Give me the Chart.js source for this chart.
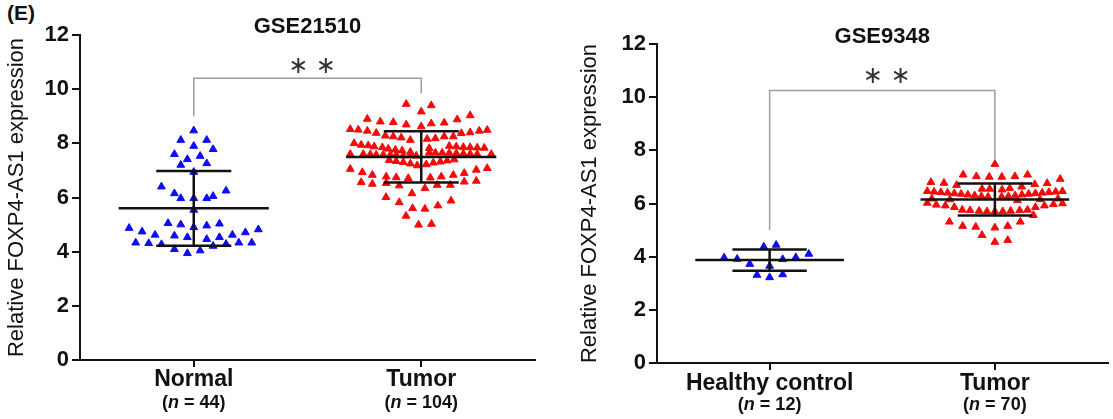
<!DOCTYPE html>
<html>
<head>
<meta charset="utf-8">
<script src="https://cdn.jsdelivr.net/npm/chart.js@4.4.1/dist/chart.umd.min.js"></script>
<style>
  body { margin: 0; background: #fff; width: 1113px; height: 419px; overflow: hidden; position: relative; }
  .panel { position: absolute; top: 0; height: 419px; }
  #tag { position: absolute; left: 7px; top: 1px; font: bold 21px 'Liberation Sans', Arial, sans-serif; color: #111; }
</style>
</head>
<body>
<div id="tag">(E)</div>
<div class="panel" style="left:0;width:556px"><canvas id="c1"></canvas></div>
<div class="panel" style="left:556px;width:557px"><canvas id="c2"></canvas></div>

<script>
// --- données ---
const catX = [0.5, 1.5];
const yTicks = [0, 2, 4, 6, 8, 10, 12];

// GSE21510
const leftTitle = "GSE21510";
const leftCats = ["Normal", "Tumor"];
const leftN = [44, 104];
const leftMeans = [5.6, 7.5];
const leftSdHi = [6.98, 8.45];
const leftSdLo = [4.22, 6.55];
const leftBracket = [9.0, 10.4, 9.85];   // bas gauche, haut, bas droite
const leftStarsY = 10.83;

// [décalage x, valeur]
const normalPts = [
  [0, 8.47], [-0.057, 8.12], [0.057, 8.12], [0, 7.9], [0.085, 7.78], [-0.085, 7.6],
  [-0.028, 7.41], [0.028, 7.53], [-0.057, 7.2], [0.057, 7.26], [0, 6.94], [-0.142, 6.4],
  [-0.085, 6.15], [-0.057, 5.97], [0, 5.97], [0.057, 5.97], [0.085, 6.05], [0.142, 6.25],
  [0, 5.54], [-0.284, 4.87], [-0.227, 4.74], [-0.17, 4.62], [-0.113, 5.05], [-0.057, 5.0],
  [0, 4.9], [0.057, 4.96], [0.113, 5.03], [0.17, 4.62], [0.227, 4.71], [0.284, 4.82],
  [-0.085, 4.59], [-0.028, 4.53], [0.057, 4.46], [0.113, 4.53], [-0.255, 4.33], [-0.198, 4.31],
  [-0.142, 4.27], [0.085, 4.21], [0.142, 4.28], [0.198, 4.33], [0.255, 4.33], [-0.085, 4.09],
  [-0.028, 3.94], [0.028, 4.04]
];

const tumorLeftPts = [
  [-0.066, 9.45], [0.044, 9.40], [0, 9.17],
  [-0.237, 8.90], [0.215, 9.03], [0.158, 8.88],
  [-0.180, 8.80], [-0.123, 8.78], [-0.066, 8.69], [0, 8.62], [0.044, 8.73], [0.101, 8.76],
  [-0.312, 8.52], [-0.277, 8.50], [-0.237, 8.46], [-0.198, 8.38], [0.176, 8.37], [0.215, 8.40], [0.255, 8.46], [0.290, 8.49],
  [-0.158, 8.28], [-0.123, 8.25], [-0.088, 8.21], [-0.048, 8.12], [0.026, 8.16], [0.062, 8.18], [0.101, 8.25], [0.141, 8.25],
  [-0.295, 8.00], [-0.264, 7.94], [-0.233, 7.92], [-0.207, 7.88], [-0.171, 7.85], [-0.145, 7.80], [-0.114, 7.76],
  [-0.084, 7.73], [-0.048, 7.68], [0.123, 7.90], [0.154, 7.88], [0.185, 7.86], [0.215, 7.85], [0.246, 7.84], [0.277, 7.83],
  [0.035, 7.82],
  [-0.312, 7.60], [-0.255, 7.60], [-0.224, 7.59], [-0.198, 7.58], [-0.167, 7.58], [-0.136, 7.57], [-0.110, 7.57],
  [-0.079, 7.55], [-0.048, 7.55], [-0.022, 7.54],
  [0.035, 7.65], [0.062, 7.65], [0.092, 7.65], [0.123, 7.64], [0.154, 7.63], [0.185, 7.62], [0.215, 7.61], [0.246, 7.60], [0.308, 7.60],
  [-0.141, 7.38], [-0.110, 7.34], [-0.079, 7.30], [-0.048, 7.25], [-0.018, 7.18], [0.022, 7.22], [0.053, 7.28], [0.084, 7.32], [0.114, 7.36], [0.145, 7.40],
  [-0.312, 7.05], [-0.259, 6.93], [0.242, 7.02], [0.290, 7.08],
  [-0.215, 6.83], [-0.154, 6.77], [-0.110, 6.74], [-0.057, 6.71], [0.040, 6.73], [0.088, 6.77], [0.141, 6.83], [0.189, 6.90],
  [-0.264, 6.56], [-0.215, 6.50], [-0.154, 6.53], [-0.097, 6.44], [0.070, 6.46], [0.128, 6.46], [0.189, 6.58], [0.242, 6.61],
  [0.016, 6.34], [-0.041, 6.15], [-0.155, 6.01], [-0.097, 5.82], [-0.038, 5.60], [0.016, 5.58], [0.073, 5.70], [0.131, 5.88],
  [-0.067, 5.32], [-0.012, 4.99], [0.045, 5.02]
];

// GSE9348
const rightTitle = "GSE9348";
const rightCats = ["Healthy control", "Tumor"];
const rightN = [12, 70];
const rightMeans = [3.87, 6.15];
const rightSdHi = [4.27, 6.75];
const rightSdLo = [3.47, 5.55];
const rightBracket = [5.0, 10.25, 7.65];
const rightStarsY = 10.75;

const healthyPts = [
  [-0.026, 4.37], [0.029, 4.44], [-0.202, 3.96], [-0.144, 3.91], [-0.088, 3.72], [0, 3.65],
  [0.058, 3.90], [0.116, 3.97], [0.174, 4.10], [-0.056, 3.31], [0, 3.22], [0.058, 3.33]
];

const tumorRightPts = [
  [0, 7.48],
  [-0.141, 7.08], [-0.082, 7.02], [-0.025, 7.00], [0.031, 7.00], [0.089, 7.02], [0.145, 7.08],
  [-0.284, 6.80], [-0.226, 6.77], [-0.170, 6.69], [-0.057, 6.55], [-0.023, 6.55], [0.032, 6.52], [0.066, 6.57],
  [0.119, 6.63], [0.177, 6.72], [0.232, 6.76], [0.290, 6.92],
  [-0.30, 6.46], [-0.27, 6.44], [-0.24, 6.42], [-0.21, 6.40], [-0.18, 6.38], [-0.15, 6.36], [-0.12, 6.33],
  [-0.09, 6.30], [-0.06, 6.27], [-0.03, 6.25], [0.03, 6.25], [0.06, 6.27], [0.09, 6.30], [0.12, 6.33],
  [0.15, 6.36], [0.18, 6.38], [0.21, 6.40], [0.24, 6.42], [0.27, 6.44], [0.30, 6.46],
  [-0.28, 6.18], [-0.20, 6.15], [0.10, 6.12], [0.20, 6.15], [0.28, 6.18],
  [-0.30, 6.02], [-0.26, 5.95], [-0.22, 5.92], [-0.18, 5.86],
  [-0.145, 5.76], [-0.11, 5.74], [-0.07, 5.72], [-0.035, 5.70], [0, 5.70], [0.035, 5.70], [0.07, 5.72], [0.11, 5.74], [0.145, 5.76],
  [0.18, 5.86], [0.22, 5.92], [0.26, 5.97], [0.30, 6.00],
  [0.171, 5.56],
  [-0.202, 5.31], [-0.143, 5.15], [-0.085, 5.12], [0, 5.09], [0.057, 5.15], [0.113, 5.31],
  [-0.057, 4.81], [0, 4.55], [0.057, 4.62]
];

// --- rendu ---
const FONT = "'Liberation Sans', Arial, sans-serif";
const BLUE = "#0c0cf5";
const RED = "#f50a0a";

function pts(arr, i) {
  return arr.map(([dx, y]) => ({ x: catX[i] + dx, y }));
}

// barres moyenne ± SD, crochet de significativité, titres et étiquettes
function overlayPlugin(cfg) {
  return {
    id: "overlay",
    afterDatasetsDraw(chart) {
      const { ctx, scales: { x, y } } = chart;
      ctx.save();
      ctx.strokeStyle = "#111";
      ctx.lineWidth = 2.5;
      cfg.means.forEach((m, i) => {
        const cx = catX[i];
        const seg = (x0, x1, y0, y1) => {
          ctx.beginPath();
          ctx.moveTo(x.getPixelForValue(x0), y.getPixelForValue(y0));
          ctx.lineTo(x.getPixelForValue(x1), y.getPixelForValue(y1));
          ctx.stroke();
        };
        seg(cx - 0.33, cx + 0.33, m, m);
        seg(cx - 0.165, cx + 0.165, cfg.sdHi[i], cfg.sdHi[i]);
        seg(cx - 0.165, cx + 0.165, cfg.sdLo[i], cfg.sdLo[i]);
        seg(cx, cx, cfg.sdLo[i], cfg.sdHi[i]);
      });

      // crochet
      const [bl, bt, br] = cfg.bracket;
      ctx.strokeStyle = "#9c9c9c";
      ctx.lineWidth = 1.5;
      ctx.beginPath();
      ctx.moveTo(x.getPixelForValue(catX[0]), y.getPixelForValue(bl));
      ctx.lineTo(x.getPixelForValue(catX[0]), y.getPixelForValue(bt));
      ctx.lineTo(x.getPixelForValue(catX[1]), y.getPixelForValue(bt));
      ctx.lineTo(x.getPixelForValue(catX[1]), y.getPixelForValue(br));
      ctx.stroke();

      ctx.fillStyle = "#333";
      ctx.font = "24px 'DejaVu Sans', sans-serif";
      ctx.textAlign = "center";
      ctx.textBaseline = "middle";
      ctx.fillText("\u2217 \u2217", x.getPixelForValue(1.02), y.getPixelForValue(cfg.starsY));
      ctx.restore();
    },
    afterDraw(chart) {
      const { ctx, scales: { x }, chartArea } = chart;
      ctx.save();
      ctx.fillStyle = "#111";
      ctx.textBaseline = "middle";
      ctx.textAlign = "center";
      ctx.font = "bold 22px " + FONT;
      ctx.fillText(cfg.title, (chartArea.left + chartArea.right) / 2, cfg.titleY);

      cfg.cats.forEach((c, i) => {
        const px = x.getPixelForValue(catX[i]);
        ctx.textAlign = "center";
        ctx.font = "bold 23px " + FONT;
        ctx.fillText(c, px, cfg.labelY[0]);

        // "(n = 44)" avec n en italique
        const fb = "bold 18px " + FONT, fi = "italic bold 18px " + FONT;
        const a = "(", b = "n", rest = " = " + cfg.n[i] + ")";
        ctx.font = fb; const wa = ctx.measureText(a).width, wr = ctx.measureText(rest).width;
        ctx.font = fi; const wb = ctx.measureText(b).width;
        let sx = px - (wa + wb + wr) / 2;
        ctx.textAlign = "left";
        ctx.font = fb; ctx.fillText(a, sx, cfg.labelY[1]); sx += wa;
        ctx.font = fi; ctx.fillText(b, sx, cfg.labelY[1]); sx += wb;
        ctx.font = fb; ctx.fillText(rest, sx, cfg.labelY[1]);
      });
      ctx.restore();
    }
  };
}

function makeChart(id, cfg) {
  return new Chart(document.getElementById(id), {
    type: "scatter",
    data: {
      datasets: [
        { data: pts(cfg.groups[0], 0), backgroundColor: BLUE, borderColor: BLUE },
        { data: pts(cfg.groups[1], 1), backgroundColor: RED, borderColor: RED }
      ]
    },
    options: {
      responsive: true,
      maintainAspectRatio: false,
      animation: false,
      layout: { padding: cfg.padding },
      elements: { point: { pointStyle: "triangle", radius: 4.5, borderWidth: 1, hoverRadius: 4.5 } },
      plugins: { legend: { display: false }, tooltip: { enabled: false } },
      scales: {
        x: {
          type: "linear", min: 0, max: 2,
          afterBuildTicks: s => { s.ticks = catX.map(v => ({ value: v })); },
          afterFit: s => { s.height = cfg.xHeight; },
          ticks: { callback: () => "" },
          grid: { drawOnChartArea: false, drawTicks: true, tickLength: 7, color: "#111", lineWidth: 2 },
          border: { color: "#111", width: 2 }
        },
        y: {
          min: 0, max: 12,
          afterBuildTicks: s => { s.ticks = yTicks.map(v => ({ value: v })); },
          afterFit: s => { s.width = cfg.yWidth; },
          ticks: { color: "#111", padding: 3, font: { family: FONT, size: 22, weight: "bold" } },
          grid: { drawOnChartArea: false, drawTicks: true, tickLength: 8, color: "#111", lineWidth: 2 },
          border: { color: "#111", width: 2 },
          title: {
            display: true, text: "Relative FOXP4-AS1 expression", color: "#111",
            font: { family: FONT, size: 22 }, padding: { top: 3.8, bottom: 0 }
          }
        }
      }
    },
    plugins: [overlayPlugin(cfg)]
  });
}

makeChart("c1", {
  groups: [normalPts, tumorLeftPts],
  cats: leftCats, n: leftN, means: leftMeans, sdHi: leftSdHi, sdLo: leftSdLo,
  bracket: leftBracket, starsY: leftStarsY, title: leftTitle,
  titleY: 27, labelY: [380, 403],
  padding: { left: 0, right: 21, top: 35, bottom: 0 }, yWidth: 80, xHeight: 59
});

makeChart("c2", {
  groups: [healthyPts, tumorRightPts],
  cats: rightCats, n: rightN, means: rightMeans, sdHi: rightSdHi, sdLo: rightSdLo,
  bracket: rightBracket, starsY: rightStarsY, title: rightTitle,
  titleY: 37, labelY: [384, 405],
  padding: { left: 17, right: 1, top: 44, bottom: 0 }, yWidth: 84, xHeight: 56
});
</script>
</body>
</html>
